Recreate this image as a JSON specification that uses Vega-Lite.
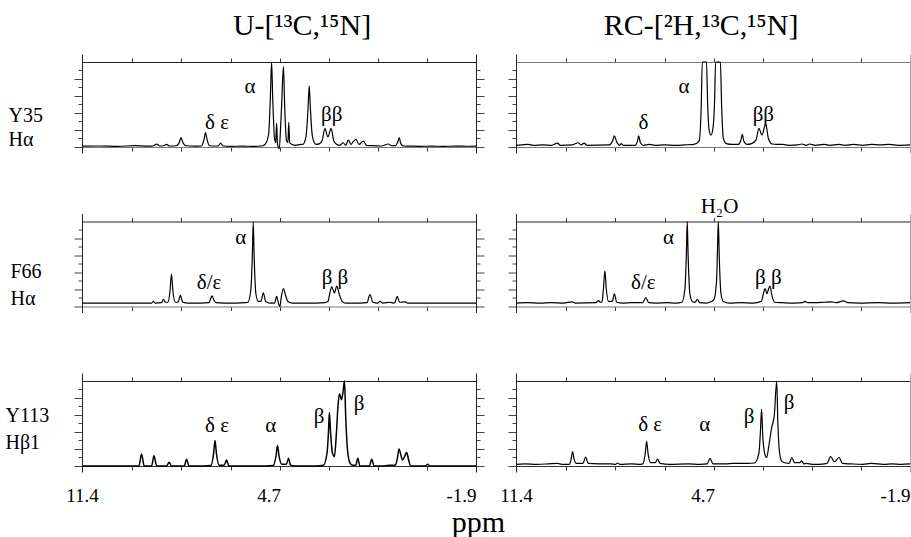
{
"$schema":"https://vega.github.io/schema/vega-lite/v6.json",
"padding":{"left":5,"top":11,"right":0,"bottom":0},
"background":"white",
"config":{"view":{"stroke":null},"font":"Liberation Serif"},
"datasets":{
"s1":[{"x":11.4,"y":0.01},{"x":10.8,"y":0.012},{"x":10.2,"y":0.008},{"x":9.6,"y":0.015},{"x":9.2,"y":0.01},{"x":9.0,"y":0.012},{"x":8.88,"y":0.035},{"x":8.78,"y":0.012},{"x":8.64,"y":0.015},{"x":8.54,"y":0.03},{"x":8.45,"y":0.012},{"x":8.22,"y":0.015},{"x":8.11,"y":0.06},{"x":8.06,"y":0.11},{"x":8.0,"y":0.06},{"x":7.9,"y":0.015},{"x":7.6,"y":0.01},{"x":7.4,"y":0.012},{"x":7.36,"y":0.015},{"x":7.28,"y":0.09},{"x":7.23,"y":0.17},{"x":7.18,"y":0.09},{"x":7.1,"y":0.015},{"x":6.9,"y":0.012},{"x":6.8,"y":0.012},{"x":6.72,"y":0.045},{"x":6.64,"y":0.012},{"x":6.4,"y":0.008},{"x":6.0,"y":0.01},{"x":5.6,"y":0.008},{"x":5.3,"y":0.015},{"x":5.2,"y":0.04},{"x":5.1,"y":0.15},{"x":5.04,"y":0.6},{"x":5.0,"y":1.0},{"x":4.96,"y":0.55},{"x":4.9,"y":0.1},{"x":4.86,"y":0.05},{"x":4.83,"y":0.28},{"x":4.8,"y":0.03},{"x":4.74,"y":-0.02},{"x":4.7,"y":0.2},{"x":4.66,"y":0.5},{"x":4.6,"y":0.945},{"x":4.56,"y":0.5},{"x":4.5,"y":0.08},{"x":4.45,"y":0.05},{"x":4.42,"y":0.29},{"x":4.39,"y":0.05},{"x":4.3,"y":0.03},{"x":4.2,"y":0.02},{"x":4.0,"y":0.03},{"x":3.95,"y":0.03},{"x":3.84,"y":0.12},{"x":3.77,"y":0.45},{"x":3.73,"y":0.72},{"x":3.69,"y":0.45},{"x":3.62,"y":0.12},{"x":3.5,"y":0.03},{"x":3.38,"y":0.04},{"x":3.29,"y":0.08},{"x":3.2,"y":0.22},{"x":3.1,"y":0.12},{"x":2.99,"y":0.22},{"x":2.9,"y":0.07},{"x":2.8,"y":0.03},{"x":2.7,"y":0.02},{"x":2.58,"y":0.05},{"x":2.5,"y":0.02},{"x":2.41,"y":0.08},{"x":2.32,"y":0.03},{"x":2.25,"y":0.06},{"x":2.15,"y":0.09},{"x":2.05,"y":0.03},{"x":1.9,"y":0.07},{"x":1.8,"y":0.02},{"x":1.6,"y":0.015},{"x":1.3,"y":0.012},{"x":1.06,"y":0.035},{"x":0.95,"y":0.015},{"x":0.82,"y":0.015},{"x":0.74,"y":0.06},{"x":0.69,"y":0.11},{"x":0.64,"y":0.04},{"x":0.55,"y":0.012},{"x":0.3,"y":0.01},{"x":0.0,"y":0.008},{"x":-0.4,"y":0.01},{"x":-0.8,"y":0.008},{"x":-1.2,"y":0.01},{"x":-1.6,"y":0.009},{"x":-1.9,"y":0.01}],
"s2":[{"x":11.4,"y":0.02},{"x":11.2,"y":0.025},{"x":11.0,"y":0.03},{"x":10.8,"y":0.02},{"x":10.5,"y":0.025},{"x":10.2,"y":0.02},{"x":10.0,"y":0.045},{"x":9.9,"y":0.02},{"x":9.5,"y":0.025},{"x":9.3,"y":0.05},{"x":9.2,"y":0.025},{"x":9.1,"y":0.045},{"x":9.0,"y":0.02},{"x":8.25,"y":0.025},{"x":8.14,"y":0.07},{"x":8.08,"y":0.13},{"x":8.0,"y":0.06},{"x":7.9,"y":0.02},{"x":7.85,"y":0.04},{"x":7.78,"y":0.02},{"x":7.38,"y":0.02},{"x":7.3,"y":0.07},{"x":7.26,"y":0.13},{"x":7.2,"y":0.05},{"x":7.1,"y":0.02},{"x":6.9,"y":0.03},{"x":6.7,"y":0.02},{"x":6.4,"y":0.025},{"x":6.0,"y":0.02},{"x":5.7,"y":0.025},{"x":5.4,"y":0.03},{"x":5.22,"y":0.07},{"x":5.15,"y":0.45},{"x":5.11,"y":1.0},{"x":4.97,"y":1.0},{"x":4.93,"y":0.5},{"x":4.88,"y":0.2},{"x":4.82,"y":0.14},{"x":4.76,"y":0.2},{"x":4.7,"y":0.5},{"x":4.66,"y":1.0},{"x":4.5,"y":1.0},{"x":4.46,"y":0.5},{"x":4.4,"y":0.1},{"x":4.3,"y":0.04},{"x":4.1,"y":0.03},{"x":3.9,"y":0.03},{"x":3.81,"y":0.08},{"x":3.76,"y":0.15},{"x":3.71,"y":0.07},{"x":3.6,"y":0.03},{"x":3.45,"y":0.04},{"x":3.3,"y":0.08},{"x":3.2,"y":0.22},{"x":3.1,"y":0.14},{"x":2.97,"y":0.27},{"x":2.88,"y":0.1},{"x":2.75,"y":0.035},{"x":2.6,"y":0.03},{"x":2.4,"y":0.03},{"x":2.2,"y":0.02},{"x":1.9,"y":0.025},{"x":1.75,"y":0.035},{"x":1.6,"y":0.02},{"x":1.5,"y":0.035},{"x":1.3,"y":0.02},{"x":1.0,"y":0.03},{"x":0.8,"y":0.02},{"x":0.5,"y":0.03},{"x":0.3,"y":0.02},{"x":0.0,"y":0.03},{"x":-0.3,"y":0.02},{"x":-0.6,"y":0.03},{"x":-0.9,"y":0.025},{"x":-1.2,"y":0.03},{"x":-1.5,"y":0.02},{"x":-1.9,"y":0.025}],
"s3":[{"x":11.4,"y":0.04},{"x":10.5,"y":0.04},{"x":9.5,"y":0.04},{"x":9.2,"y":0.04},{"x":9.05,"y":0.04},{"x":8.99,"y":0.06},{"x":8.93,"y":0.04},{"x":8.72,"y":0.045},{"x":8.65,"y":0.085},{"x":8.58,"y":0.05},{"x":8.5,"y":0.05},{"x":8.43,"y":0.18},{"x":8.38,"y":0.38},{"x":8.33,"y":0.18},{"x":8.25,"y":0.05},{"x":8.16,"y":0.05},{"x":8.08,"y":0.13},{"x":8.0,"y":0.05},{"x":7.8,"y":0.04},{"x":7.4,"y":0.04},{"x":7.12,"y":0.045},{"x":7.06,"y":0.09},{"x":7.01,"y":0.125},{"x":6.95,"y":0.08},{"x":6.88,"y":0.045},{"x":6.6,"y":0.04},{"x":6.2,"y":0.04},{"x":5.9,"y":0.045},{"x":5.8,"y":0.05},{"x":5.7,"y":0.2},{"x":5.65,"y":0.6},{"x":5.62,"y":0.99},{"x":5.59,"y":0.6},{"x":5.53,"y":0.15},{"x":5.45,"y":0.06},{"x":5.36,"y":0.06},{"x":5.28,"y":0.16},{"x":5.2,"y":0.06},{"x":5.05,"y":0.04},{"x":4.9,"y":0.04},{"x":4.83,"y":0.12},{"x":4.77,"y":0.04},{"x":4.72,"y":0.0},{"x":4.67,"y":0.12},{"x":4.6,"y":0.21},{"x":4.52,"y":0.12},{"x":4.45,"y":0.06},{"x":4.3,"y":0.04},{"x":4.0,"y":0.04},{"x":3.5,"y":0.04},{"x":3.2,"y":0.045},{"x":3.1,"y":0.06},{"x":3.02,"y":0.18},{"x":2.97,"y":0.23},{"x":2.88,"y":0.16},{"x":2.8,"y":0.24},{"x":2.72,"y":0.15},{"x":2.62,"y":0.06},{"x":2.5,"y":0.04},{"x":2.0,"y":0.04},{"x":1.78,"y":0.045},{"x":1.68,"y":0.14},{"x":1.58,"y":0.05},{"x":1.42,"y":0.04},{"x":1.34,"y":0.06},{"x":1.25,"y":0.04},{"x":1.0,"y":0.05},{"x":0.9,"y":0.04},{"x":0.84,"y":0.045},{"x":0.76,"y":0.12},{"x":0.68,"y":0.05},{"x":0.5,"y":0.055},{"x":0.4,"y":0.04},{"x":0.0,"y":0.04},{"x":-1.0,"y":0.04},{"x":-1.9,"y":0.04}],
"s4":[{"x":11.4,"y":0.04},{"x":11.0,"y":0.045},{"x":10.6,"y":0.04},{"x":10.2,"y":0.045},{"x":9.8,"y":0.04},{"x":9.5,"y":0.055},{"x":9.4,"y":0.04},{"x":8.7,"y":0.045},{"x":8.62,"y":0.07},{"x":8.55,"y":0.05},{"x":8.5,"y":0.05},{"x":8.45,"y":0.2},{"x":8.4,"y":0.42},{"x":8.35,"y":0.2},{"x":8.28,"y":0.06},{"x":8.15,"y":0.06},{"x":8.08,"y":0.15},{"x":8.0,"y":0.05},{"x":7.8,"y":0.04},{"x":7.5,"y":0.045},{"x":7.12,"y":0.045},{"x":7.02,"y":0.105},{"x":6.92,"y":0.045},{"x":6.7,"y":0.04},{"x":6.3,"y":0.045},{"x":6.0,"y":0.04},{"x":5.8,"y":0.05},{"x":5.7,"y":0.2},{"x":5.65,"y":0.6},{"x":5.62,"y":1.0},{"x":5.59,"y":0.6},{"x":5.53,"y":0.15},{"x":5.45,"y":0.06},{"x":5.35,"y":0.05},{"x":5.28,"y":0.085},{"x":5.2,"y":0.045},{"x":5.0,"y":0.04},{"x":4.8,"y":0.06},{"x":4.72,"y":0.08},{"x":4.63,"y":0.3},{"x":4.6,"y":0.65},{"x":4.57,"y":1.0},{"x":4.54,"y":0.6},{"x":4.48,"y":0.15},{"x":4.4,"y":0.06},{"x":4.2,"y":0.04},{"x":3.8,"y":0.045},{"x":3.4,"y":0.04},{"x":3.12,"y":0.06},{"x":3.05,"y":0.15},{"x":2.99,"y":0.21},{"x":2.93,"y":0.15},{"x":2.88,"y":0.2},{"x":2.83,"y":0.24},{"x":2.76,"y":0.13},{"x":2.67,"y":0.05},{"x":2.4,"y":0.045},{"x":2.0,"y":0.04},{"x":1.72,"y":0.045},{"x":1.64,"y":0.06},{"x":1.56,"y":0.045},{"x":1.3,"y":0.045},{"x":1.0,"y":0.05},{"x":0.74,"y":0.055},{"x":0.6,"y":0.045},{"x":0.35,"y":0.065},{"x":0.2,"y":0.045},{"x":-0.2,"y":0.04},{"x":-0.8,"y":0.045},{"x":-1.3,"y":0.04},{"x":-1.9,"y":0.045}],
"s5":[{"x":11.4,"y":0.0},{"x":10.5,"y":0.0},{"x":9.6,"y":0.0},{"x":9.48,"y":0.0},{"x":9.39,"y":0.14},{"x":9.3,"y":0.0},{"x":9.05,"y":0.0},{"x":8.97,"y":0.12},{"x":8.88,"y":0.0},{"x":8.54,"y":0.0},{"x":8.46,"y":0.045},{"x":8.38,"y":0.0},{"x":7.95,"y":0.0},{"x":7.87,"y":0.08},{"x":7.79,"y":0.0},{"x":7.3,"y":0.0},{"x":7.05,"y":0.005},{"x":6.96,"y":0.14},{"x":6.91,"y":0.3},{"x":6.86,"y":0.14},{"x":6.77,"y":0.01},{"x":6.6,"y":0.01},{"x":6.52,"y":0.07},{"x":6.44,"y":0.0},{"x":6.0,"y":0.0},{"x":5.2,"y":0.0},{"x":4.95,"y":0.005},{"x":4.85,"y":0.12},{"x":4.8,"y":0.24},{"x":4.75,"y":0.12},{"x":4.65,"y":0.02},{"x":4.5,"y":0.02},{"x":4.43,"y":0.09},{"x":4.36,"y":0.01},{"x":4.2,"y":0.0},{"x":3.5,"y":0.0},{"x":3.25,"y":0.01},{"x":3.13,"y":0.15},{"x":3.08,"y":0.4},{"x":3.05,"y":0.63},{"x":3.01,"y":0.4},{"x":2.95,"y":0.16},{"x":2.88,"y":0.11},{"x":2.81,"y":0.4},{"x":2.76,"y":0.7},{"x":2.71,"y":0.85},{"x":2.64,"y":0.78},{"x":2.58,"y":0.9},{"x":2.54,"y":1.0},{"x":2.5,"y":0.6},{"x":2.44,"y":0.2},{"x":2.36,"y":0.04},{"x":2.28,"y":0.01},{"x":2.16,"y":0.01},{"x":2.09,"y":0.09},{"x":2.02,"y":0.0},{"x":1.7,"y":0.0},{"x":1.62,"y":0.08},{"x":1.54,"y":0.0},{"x":1.2,"y":0.0},{"x":1.0,"y":0.01},{"x":0.82,"y":0.01},{"x":0.75,"y":0.1},{"x":0.7,"y":0.2},{"x":0.63,"y":0.12},{"x":0.58,"y":0.07},{"x":0.5,"y":0.12},{"x":0.44,"y":0.16},{"x":0.38,"y":0.08},{"x":0.3,"y":0.0},{"x":-0.2,"y":0.0},{"x":-0.27,"y":0.02},{"x":-0.34,"y":0.0},{"x":-1.0,"y":0.0},{"x":-1.9,"y":0.0}],
"s6":[{"x":11.4,"y":0.02},{"x":11.1,"y":0.025},{"x":10.7,"y":0.02},{"x":10.3,"y":0.025},{"x":10.0,"y":0.03},{"x":9.85,"y":0.02},{"x":9.6,"y":0.02},{"x":9.54,"y":0.08},{"x":9.49,"y":0.17},{"x":9.44,"y":0.08},{"x":9.36,"y":0.03},{"x":9.14,"y":0.03},{"x":9.05,"y":0.105},{"x":8.96,"y":0.03},{"x":8.6,"y":0.025},{"x":8.2,"y":0.025},{"x":8.05,"y":0.02},{"x":7.97,"y":0.035},{"x":7.9,"y":0.02},{"x":7.5,"y":0.025},{"x":7.2,"y":0.02},{"x":7.12,"y":0.025},{"x":7.04,"y":0.14},{"x":6.99,"y":0.29},{"x":6.94,"y":0.14},{"x":6.85,"y":0.04},{"x":6.7,"y":0.04},{"x":6.62,"y":0.08},{"x":6.54,"y":0.03},{"x":6.2,"y":0.02},{"x":5.6,"y":0.025},{"x":5.2,"y":0.02},{"x":4.95,"y":0.025},{"x":4.85,"y":0.09},{"x":4.75,"y":0.025},{"x":4.3,"y":0.025},{"x":4.1,"y":0.03},{"x":3.6,"y":0.03},{"x":3.35,"y":0.035},{"x":3.2,"y":0.15},{"x":3.15,"y":0.4},{"x":3.11,"y":0.67},{"x":3.07,"y":0.35},{"x":3.0,"y":0.14},{"x":2.94,"y":0.1},{"x":2.86,"y":0.25},{"x":2.77,"y":0.45},{"x":2.68,"y":0.6},{"x":2.6,"y":1.0},{"x":2.56,"y":0.5},{"x":2.5,"y":0.15},{"x":2.42,"y":0.05},{"x":2.18,"y":0.03},{"x":2.09,"y":0.1},{"x":2.0,"y":0.04},{"x":1.82,"y":0.04},{"x":1.76,"y":0.06},{"x":1.68,"y":0.025},{"x":1.6,"y":0.03},{"x":1.4,"y":0.02},{"x":1.2,"y":0.02},{"x":0.9,"y":0.03},{"x":0.78,"y":0.11},{"x":0.65,"y":0.05},{"x":0.49,"y":0.1},{"x":0.38,"y":0.03},{"x":0.1,"y":0.025},{"x":-0.3,"y":0.02},{"x":-0.6,"y":0.03},{"x":-1.0,"y":0.02},{"x":-1.3,"y":0.025},{"x":-1.6,"y":0.02},{"x":-1.9,"y":0.025}],
"t1":[{"x":6.84,"y":0.21,"t":"δ ε"},{"x":5.73,"y":0.64,"t":"α"},{"x":2.97,"y":0.31,"t":"ββ"}],
"t2":[{"x":7.10,"y":0.21,"t":"δ"},{"x":5.73,"y":0.64,"t":"α"},{"x":3.05,"y":0.31,"t":"ββ"}],
"t3":[{"x":7.11,"y":0.21,"t":"δ/ε"},{"x":6.04,"y":0.73,"t":"α"},{"x":2.86,"y":0.27,"t":"β β"}],
"t4":[{"x":7.10,"y":0.21,"t":"δ/ε"},{"x":6.25,"y":0.73,"t":"α"},{"x":2.88,"y":0.27,"t":"β β"},{"x":4.53,"y":1.097,"t":"H₂O"}],
"t5":[{"x":6.84,"y":0.40,"t":"δ ε"},{"x":5.03,"y":0.40,"t":"α"},{"x":3.40,"y":0.50,"t":"β"},{"x":2.05,"y":0.66,"t":"β"}],
"t6":[{"x":6.87,"y":0.41,"t":"δ ε"},{"x":5.03,"y":0.41,"t":"α"},{"x":3.53,"y":0.51,"t":"β"},{"x":2.18,"y":0.67,"t":"β"}]
},
"concat":[
{"width":394,"height":99,
"title":{"text":"U-[¹³C,¹⁵N]","font":"Liberation Serif","fontSize":30,"fontWeight":"normal","anchor":"middle","frame":"group","baseline":"alphabetic","offset":-11,"dx":23,"color":"#000"},
"layer":[
{"data":{"name":"s1"},"mark":{"type":"line","color":"#000","strokeWidth":1.2,"interpolate":"monotone"},
"encoding":{"x":{"field":"x","type":"quantitative","scale":{"domain":[11.4,-1.9],"nice":false,"zero":false},"axis":{"orient":"bottom","offset":-6,"values":[11.4,9.725,8.05,6.375,4.7,3.05,1.4,-0.25,-1.9],"labels":false,"tickSize":4,"tickColor":"#333","domainColor":"#777","domainWidth":1.2,"grid":false,"title":null}},
"y":{"field":"y","type":"quantitative","scale":{"domain":[-0.0706,1.0941],"nice":false,"zero":false},"axis":{"orient":"left","values":[0,0.1,0.2,0.3,0.4,0.5,0.6,0.7,0.8,0.9],"labels":false,"tickSize":{"condition":{"test":"round(datum.value*10) % 2 == 0","value":8},"value":4},"tickColor":"#444","domainColor":"#222","grid":false,"title":["Y35","Hα"],"titleAngle":0,"titleAlign":"left","titleBaseline":"alphabetic","titleX":-74,"titleY":67,"titleFont":"Liberation Serif","titleFontSize":20,"titleFontWeight":"normal","titleColor":"#000","titleLineHeight":24}}}},
{"data":{"name":"t1"},"mark":{"type":"text","font":"Liberation Serif","fontSize":21,"align":"center","baseline":"alphabetic","color":"#000"},
"encoding":{"x":{"field":"x","type":"quantitative","scale":{"domain":[11.4,-1.9],"nice":false,"zero":false},"axis":{"orient":"top","offset":-8,"values":[11.4,9.725,8.05,6.375,4.7,3.05,1.4,-0.25,-1.9],"labels":false,"tickSize":4,"tickColor":"#333","domainColor":"#222","grid":false,"title":null}},
"y":{"field":"y","type":"quantitative","scale":{"domain":[-0.0706,1.0941],"nice":false,"zero":false},"axis":{"orient":"right","values":[0,0.1,0.2,0.3,0.4,0.5,0.6,0.7,0.8,0.9],"labels":false,"tickSize":{"condition":{"test":"round(datum.value*10) % 2 == 0","value":8},"value":4},"tickColor":"#444","domainColor":"#222","grid":false,"title":null}},
"text":{"field":"t"}}}
],
"resolve":{"axis":{"x":"independent","y":"independent"}}},
{"width":394,"height":99,
"title":{"text":"RC-[²H,¹³C,¹⁵N]","font":"Liberation Serif","fontSize":30,"fontWeight":"normal","anchor":"middle","frame":"group","baseline":"alphabetic","offset":-11,"dx":-12,"color":"#000"},
"layer":[
{"data":{"name":"s2"},"mark":{"type":"line","color":"#000","strokeWidth":1.2,"interpolate":"monotone"},
"encoding":{"x":{"field":"x","type":"quantitative","scale":{"domain":[11.4,-1.9],"nice":false,"zero":false},"axis":{"orient":"bottom","offset":-6,"values":[11.4,9.725,8.05,6.375,4.7,3.05,1.4,-0.25,-1.9],"labels":false,"tickSize":4,"tickColor":"#333","domainColor":"#777","domainWidth":1.2,"grid":false,"title":null}},
"y":{"field":"y","type":"quantitative","scale":{"domain":[-0.0706,1.0941],"nice":false,"zero":false},"axis":{"orient":"left","values":[0,0.1,0.2,0.3,0.4,0.5,0.6,0.7,0.8,0.9],"labels":false,"tickSize":{"condition":{"test":"round(datum.value*10) % 2 == 0","value":8},"value":4},"tickColor":"#444","domainColor":"#222","grid":false,"title":null}}}},
{"data":{"name":"t2"},"mark":{"type":"text","font":"Liberation Serif","fontSize":21,"align":"center","baseline":"alphabetic","color":"#000"},
"encoding":{"x":{"field":"x","type":"quantitative","scale":{"domain":[11.4,-1.9],"nice":false,"zero":false},"axis":{"orient":"top","offset":-8,"values":[11.4,9.725,8.05,6.375,4.7,3.05,1.4,-0.25,-1.9],"labels":false,"tickSize":4,"tickColor":"#333","domainColor":"#777","grid":false,"title":null}},
"y":{"field":"y","type":"quantitative","scale":{"domain":[-0.0706,1.0941],"nice":false,"zero":false},"axis":{"orient":"right","values":[0,0.1,0.2,0.3,0.4,0.5,0.6,0.7,0.8,0.9],"labels":false,"ticks":false,"domainColor":"#aaa","grid":false,"title":null}},
"text":{"field":"t"}}}
],
"resolve":{"axis":{"x":"independent","y":"independent"}}},
{"width":394,"height":99,
"layer":[
{"data":{"name":"s3"},"mark":{"type":"line","color":"#000","strokeWidth":1.2,"interpolate":"monotone"},
"encoding":{"x":{"field":"x","type":"quantitative","scale":{"domain":[11.4,-1.9],"nice":false,"zero":false},"axis":{"orient":"bottom","offset":-6,"values":[11.4,9.725,8.05,6.375,4.7,3.05,1.4,-0.25,-1.9],"labels":false,"tickSize":4,"tickColor":"#333","domainColor":"#777","domainWidth":1.2,"grid":false,"title":null}},
"y":{"field":"y","type":"quantitative","scale":{"domain":[-0.0706,1.0941],"nice":false,"zero":false},"axis":{"orient":"left","values":[0,0.1,0.2,0.3,0.4,0.5,0.6,0.7,0.8,0.9],"labels":false,"tickSize":{"condition":{"test":"round(datum.value*10) % 2 == 0","value":8},"value":4},"tickColor":"#444","domainColor":"#222","grid":false,"title":["F66","Hα"],"titleAngle":0,"titleAlign":"left","titleBaseline":"alphabetic","titleX":-72,"titleY":64,"titleFont":"Liberation Serif","titleFontSize":20,"titleFontWeight":"normal","titleColor":"#000","titleLineHeight":27}}}},
{"data":{"name":"t3"},"mark":{"type":"text","font":"Liberation Serif","fontSize":21,"align":"center","baseline":"alphabetic","color":"#000"},
"encoding":{"x":{"field":"x","type":"quantitative","scale":{"domain":[11.4,-1.9],"nice":false,"zero":false},"axis":{"orient":"top","offset":-8,"values":[11.4,9.725,8.05,6.375,4.7,3.05,1.4,-0.25,-1.9],"labels":false,"tickSize":4,"tickColor":"#333","domainColor":"#222","grid":false,"title":null}},
"y":{"field":"y","type":"quantitative","scale":{"domain":[-0.0706,1.0941],"nice":false,"zero":false},"axis":{"orient":"right","values":[0,0.1,0.2,0.3,0.4,0.5,0.6,0.7,0.8,0.9],"labels":false,"tickSize":{"condition":{"test":"round(datum.value*10) % 2 == 0","value":8},"value":4},"tickColor":"#444","domainColor":"#222","grid":false,"title":null}},
"text":{"field":"t"}}}
],
"resolve":{"axis":{"x":"independent","y":"independent"}}},
{"width":394,"height":99,
"layer":[
{"data":{"name":"s4"},"mark":{"type":"line","color":"#000","strokeWidth":1.2,"interpolate":"monotone"},
"encoding":{"x":{"field":"x","type":"quantitative","scale":{"domain":[11.4,-1.9],"nice":false,"zero":false},"axis":{"orient":"bottom","offset":-6,"values":[11.4,9.725,8.05,6.375,4.7,3.05,1.4,-0.25,-1.9],"labels":false,"tickSize":4,"tickColor":"#333","domainColor":"#777","domainWidth":1.2,"grid":false,"title":null}},
"y":{"field":"y","type":"quantitative","scale":{"domain":[-0.0706,1.0941],"nice":false,"zero":false},"axis":{"orient":"left","values":[0,0.1,0.2,0.3,0.4,0.5,0.6,0.7,0.8,0.9],"labels":false,"tickSize":{"condition":{"test":"round(datum.value*10) % 2 == 0","value":8},"value":4},"tickColor":"#444","domainColor":"#222","grid":false,"title":null}}}},
{"data":{"name":"t4"},"mark":{"type":"text","font":"Liberation Serif","fontSize":21,"align":"center","baseline":"alphabetic","color":"#000"},
"encoding":{"x":{"field":"x","type":"quantitative","scale":{"domain":[11.4,-1.9],"nice":false,"zero":false},"axis":{"orient":"top","offset":-8,"values":[11.4,9.725,8.05,6.375,4.7,3.05,1.4,-0.25,-1.9],"labels":false,"tickSize":4,"tickColor":"#333","domainColor":"#222","grid":false,"title":null}},
"y":{"field":"y","type":"quantitative","scale":{"domain":[-0.0706,1.0941],"nice":false,"zero":false},"axis":{"orient":"right","values":[0,0.1,0.2,0.3,0.4,0.5,0.6,0.7,0.8,0.9],"labels":false,"ticks":false,"domainColor":"#aaa","grid":false,"title":null}},
"text":{"field":"t"}}}
],
"resolve":{"axis":{"x":"independent","y":"independent"}}},
{"width":394,"height":99,
"layer":[
{"data":{"name":"s5"},"mark":{"type":"line","color":"#000","strokeWidth":1.5,"interpolate":"monotone"},
"encoding":{"x":{"field":"x","type":"quantitative","scale":{"domain":[11.4,-1.9],"nice":false,"zero":false},"axis":{"orient":"bottom","offset":-6,"values":[11.4,9.725,8.05,6.375,4.7,3.05,1.4,-0.25,-1.9],"labels":true,"labelExpr":"datum.value == 11.4 ? '11.4' : datum.value == 4.7 ? '4.7' : datum.value == -1.9 ? '-1.9' : ''","labelFont":"Liberation Serif","labelFontSize":19,"labelColor":"#000","labelPadding":16,"labelFlush":false,"labelOverlap":false,"labelBound":false,"labelAlign":{"condition":{"test":"datum.value == 11.4","value":"center"},"value":"right"},"tickSize":4,"tickColor":"#333","domainColor":"#333","domainWidth":1.2,"grid":false,"title":"ppm","titleFont":"Liberation Serif","titleFontSize":30,"titleFontWeight":"normal","titleColor":"#000","titleX":396,"titleY":65,"titleAlign":"center","titleBaseline":"alphabetic"}},
"y":{"field":"y","type":"quantitative","scale":{"domain":[-0.0706,1.0941],"nice":false,"zero":false},"axis":{"orient":"left","values":[0,0.1,0.2,0.3,0.4,0.5,0.6,0.7,0.8,0.9],"labels":false,"tickSize":{"condition":{"test":"round(datum.value*10) % 2 == 0","value":8},"value":4},"tickColor":"#444","domainColor":"#222","grid":false,"title":["Y113","Hβ1"],"titleAngle":0,"titleAlign":"left","titleBaseline":"alphabetic","titleX":-77,"titleY":48,"titleFont":"Liberation Serif","titleFontSize":20,"titleFontWeight":"normal","titleColor":"#000","titleLineHeight":27}}}},
{"data":{"name":"t5"},"mark":{"type":"text","font":"Liberation Serif","fontSize":21,"align":"center","baseline":"alphabetic","color":"#000"},
"encoding":{"x":{"field":"x","type":"quantitative","scale":{"domain":[11.4,-1.9],"nice":false,"zero":false},"axis":{"orient":"top","offset":-8,"values":[11.4,9.725,8.05,6.375,4.7,3.05,1.4,-0.25,-1.9],"labels":false,"tickSize":4,"tickColor":"#333","domainColor":"#222","grid":false,"title":null}},
"y":{"field":"y","type":"quantitative","scale":{"domain":[-0.0706,1.0941],"nice":false,"zero":false},"axis":{"orient":"right","values":[0,0.1,0.2,0.3,0.4,0.5,0.6,0.7,0.8,0.9],"labels":false,"tickSize":{"condition":{"test":"round(datum.value*10) % 2 == 0","value":8},"value":4},"tickColor":"#444","domainColor":"#222","grid":false,"title":null}},
"text":{"field":"t"}}}
],
"resolve":{"axis":{"x":"independent","y":"independent"}}},
{"width":394,"height":99,
"layer":[
{"data":{"name":"s6"},"mark":{"type":"line","color":"#000","strokeWidth":1.2,"interpolate":"monotone"},
"encoding":{"x":{"field":"x","type":"quantitative","scale":{"domain":[11.4,-1.9],"nice":false,"zero":false},"axis":{"orient":"bottom","offset":-6,"values":[11.4,9.725,8.05,6.375,4.7,3.05,1.4,-0.25,-1.9],"labels":true,"labelExpr":"datum.value == 11.4 ? '11.4' : datum.value == 4.7 ? '4.7' : datum.value == -1.9 ? '-1.9' : ''","labelFont":"Liberation Serif","labelFontSize":19,"labelColor":"#000","labelPadding":16,"labelFlush":false,"labelOverlap":false,"labelBound":false,"labelAlign":{"condition":{"test":"datum.value == 11.4","value":"center"},"value":"right"},"tickSize":4,"tickColor":"#333","domainColor":"#333","domainWidth":1.2,"grid":false,"title":null}},
"y":{"field":"y","type":"quantitative","scale":{"domain":[-0.0706,1.0941],"nice":false,"zero":false},"axis":{"orient":"left","values":[0,0.1,0.2,0.3,0.4,0.5,0.6,0.7,0.8,0.9],"labels":false,"tickSize":{"condition":{"test":"round(datum.value*10) % 2 == 0","value":8},"value":4},"tickColor":"#444","domainColor":"#222","grid":false,"title":null}}}},
{"data":{"name":"t6"},"mark":{"type":"text","font":"Liberation Serif","fontSize":21,"align":"center","baseline":"alphabetic","color":"#000"},
"encoding":{"x":{"field":"x","type":"quantitative","scale":{"domain":[11.4,-1.9],"nice":false,"zero":false},"axis":{"orient":"top","offset":-8,"values":[11.4,9.725,8.05,6.375,4.7,3.05,1.4,-0.25,-1.9],"labels":false,"tickSize":4,"tickColor":"#333","domainColor":"#222","grid":false,"title":null}},
"y":{"field":"y","type":"quantitative","scale":{"domain":[-0.0706,1.0941],"nice":false,"zero":false},"axis":{"orient":"right","values":[0,0.1,0.2,0.3,0.4,0.5,0.6,0.7,0.8,0.9],"labels":false,"ticks":false,"domainColor":"#aaa","grid":false,"title":null}},
"text":{"field":"t"}}}
],
"resolve":{"axis":{"x":"independent","y":"independent"}}}
],
"columns":2,
"spacing":{"row":60.5,"column":40},
"bounds":"flush"
}
